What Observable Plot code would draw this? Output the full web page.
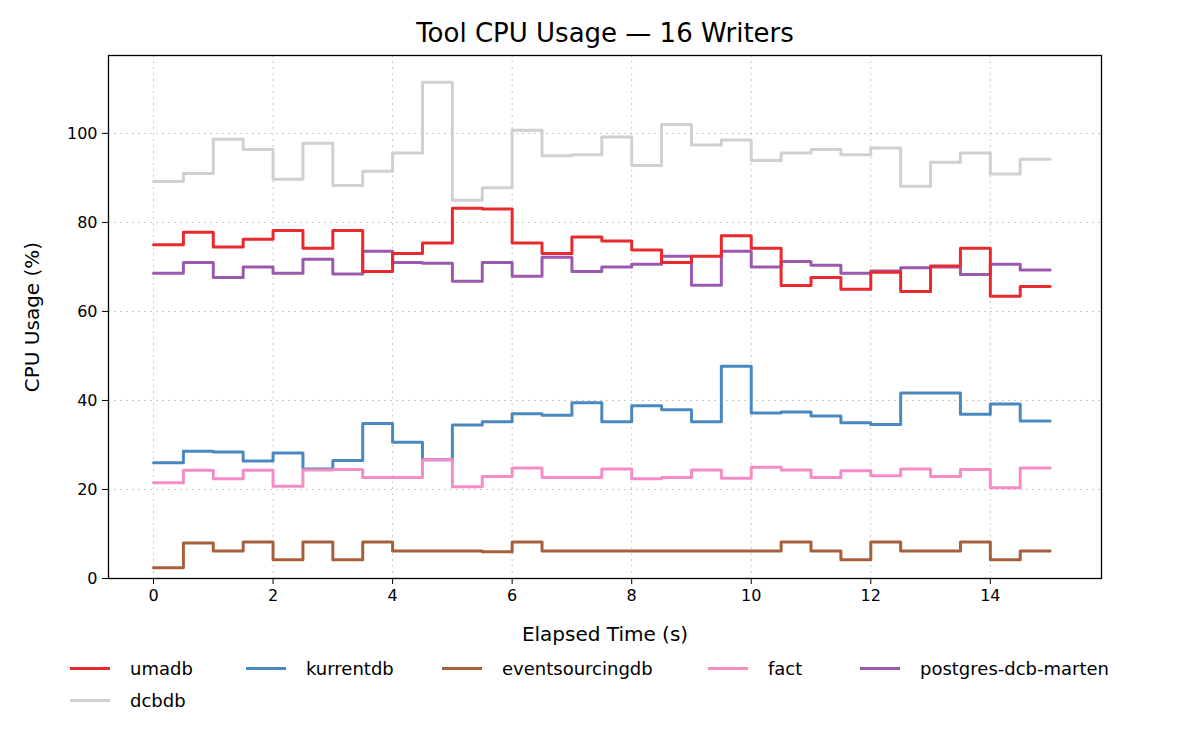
<!DOCTYPE html>
<html><head><meta charset="utf-8">
<script src="https://cdn.jsdelivr.net/npm/d3@7"></script>
<script src="https://cdn.jsdelivr.net/npm/@observablehq/plot@0.6"></script>
<style>
body{margin:0;background:#fff;font-family:"DejaVu Sans",sans-serif;}
#wrap{position:relative;width:1200px;height:750px;}
#title{position:absolute;top:18px;left:0;width:1210px;text-align:center;font-size:26px;color:#000;}
#chart{position:absolute;top:0;left:0;}
.leg{position:absolute;font-size:18px;display:flex;align-items:center;}
.leg span.sw{display:inline-block;width:40px;height:0;border-top:3.5px solid;margin-right:20px;}
</style></head><body>
<div id="wrap"><div id="title">Tool CPU Usage — 16 Writers</div><div id="chart"></div></div>
<script>
const times = d3.range(0, 15.01, 0.5);
const seriesNames = ["umadb","kurrentdb","eventsourcingdb","fact","postgres-dcb-marten","dcbdb"];
const colors = ["#e8292e","#4a89c0","#a65f3a","#f58cc6","#9b59ad","#d0d0d0"];
const umadb = [75,77.8,74.5,76.2,78.2,74.2,78.2,69,73,75.4,83.2,83,75.4,73,76.7,75.8,73.8,71,72.4,77,74.2,65.8,67.6,65,68.8,64.5,70.2,74.2,63.4,65.6,65.6];
const kurrentdb = [26,28.6,28.4,26.4,28.2,24.6,26.5,34.8,30.6,26.7,34.5,35.2,37,36.7,39.5,35.2,38.8,37.9,35.2,47.7,37.2,37.4,36.5,35,34.6,41.7,41.7,36.9,39.2,35.4,35.4];
const eventsourcingdb = [2.4,8,6.2,8.2,4.2,8.2,4.2,8.2,6.2,6.2,6.2,6.0,8.2,6.2,6.2,6.2,6.2,6.2,6.2,6.2,6.2,8.2,6.2,4.2,8.2,6.2,6.2,8.2,4.2,6.2,6.2];
const fact = [21.5,24.3,22.4,24.3,20.7,24.4,24.5,22.7,22.7,26.7,20.6,22.9,24.8,22.7,22.7,24.6,22.4,22.7,24.4,22.5,25,24.4,22.7,24.2,23.1,24.6,22.9,24.5,20.4,24.8,24.8];
const marten = [68.6,71,67.6,70,68.6,71.7,68.4,73.5,71,70.8,66.8,71,67.9,72.2,69,70,70.6,72.4,65.9,73.5,70,71.2,70.4,68.6,69.1,69.8,70,68.3,70.6,69.3,69.3];
const dcbdb = [89.2,91,98.7,96.4,89.7,97.8,88.3,91.5,95.6,111.5,85,87.8,100.7,95,95.2,99.2,92.8,102,97.4,98.5,93.9,95.6,96.4,95.2,96.7,88.1,93.5,95.6,90.9,94.2,94.2];
const values = [umadb,kurrentdb,eventsourcingdb,fact,marten,dcbdb];
const drawOrder = ["dcbdb","postgres-dcb-marten","umadb","kurrentdb","fact","eventsourcingdb"];
const rows = [];
drawOrder.forEach(n=>{const i=seriesNames.indexOf(n); times.forEach((t,j)=>rows.push({t,v:values[i][j],s:n}));});
const plot = Plot.plot({
  width:1200,height:655,marginTop:55,marginBottom:77,marginLeft:108,marginRight:99,
  style:{fontFamily:"DejaVu Sans",fontSize:"16px",color:"#000",background:"transparent"},
  x:{domain:[-0.753,15.86],ticks:d3.range(0,15,2),tickSize:6,tickPadding:5,label:"Elapsed Time (s)",labelAnchor:"center",labelArrow:"none",labelOffset:62,grid:false},
  y:{domain:[0,117.5],ticks:[0,20,40,60,80,100],tickSize:6,tickPadding:5,label:"CPU Usage (%)",labelAnchor:"center",labelArrow:"none",labelOffset:84},
  color:{domain:seriesNames,range:colors},
  marks:[
    Plot.gridX(d3.range(0,15,2),{stroke:"#b0b0b0",strokeOpacity:0.7,strokeDasharray:"2,4"}),
    Plot.gridY([0,20,40,60,80,100],{stroke:"#b0b0b0",strokeOpacity:0.7,strokeDasharray:"2,4"}),
    Plot.line(rows,{x:"t",y:"v",z:"s",stroke:"s",strokeWidth:3,curve:"step-after"}),
    Plot.frame({stroke:"#000",strokeWidth:1.3})
  ]
});
plot.querySelectorAll('[aria-label="x-axis tick label"] text, [aria-label="y-axis tick label"] text').forEach(t=>t.style.fontSize="16px");
plot.querySelectorAll('[aria-label="x-axis tick label"], [aria-label="y-axis tick label"]').forEach(g=>g.setAttribute("font-size","16"));
plot.querySelectorAll('[aria-label="x-axis label"], [aria-label="y-axis label"]').forEach(g=>{g.style.fontSize="20px";g.setAttribute("font-size","20");});
document.getElementById("chart").appendChild(plot);
const legPos = [[70,658],[246,658],[442,658],[708,658],[860,658],[70,690]];
const wrap=document.getElementById("wrap");
seriesNames.forEach((n,i)=>{const d=document.createElement("div");d.className="leg";d.style.left=legPos[i][0]+"px";d.style.top=legPos[i][1]+"px";
 d.innerHTML=`<span class="sw" style="border-color:${colors[i]}"></span>${n}`;wrap.appendChild(d);});
</script></body></html>
